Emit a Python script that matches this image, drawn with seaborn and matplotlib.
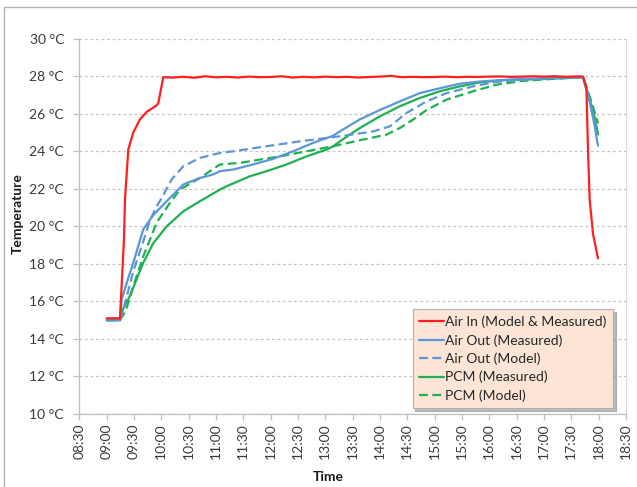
import matplotlib
matplotlib.use("Agg")
import matplotlib.pyplot as plt
import matplotlib.ticker as mticker
from matplotlib.lines import Line2D
import seaborn as sns
import pandas as pd

# ---- data (time in decimal hours, temperature in °C) ----
air_in_t = [9.0, 9.244, 9.317, 9.335, 9.396, 9.487, 9.609, 9.732, 9.915, 9.944, 10.036,
            10.2, 10.4, 10.6, 10.8, 11.0, 11.2, 11.4, 11.6, 11.8, 12.0, 12.2, 12.4, 12.6,
            12.8, 13.0, 13.2, 13.4, 13.6, 13.8, 14.0, 14.2, 14.4, 14.6, 14.8, 15.0, 15.2,
            15.4, 15.6, 15.8, 16.0, 16.2, 16.4, 16.6, 16.8, 17.0, 17.2, 17.4, 17.6, 17.714,
            17.776, 17.805, 17.836, 17.897, 17.988]
air_in_T = [15.1, 15.1, 19.3, 21.4, 24.1, 25.0, 25.7, 26.1, 26.45, 26.56, 27.95,
            27.93, 27.97, 27.92, 28.0, 27.94, 27.97, 27.93, 27.98, 27.95, 27.96, 28.0, 27.93,
            27.97, 27.94, 27.98, 27.95, 27.97, 27.93, 27.96, 27.98, 28.02, 27.95, 27.97,
            27.95, 27.96, 27.98, 27.95, 27.97, 27.96, 27.98, 27.99, 27.97, 27.98, 28.0,
            27.98, 28.0, 27.97, 27.99, 27.98,
            27.4, 24.1, 21.4, 19.6, 18.3]

air_out_meas_t = [9.0, 9.244, 9.275, 9.39, 9.487, 9.67, 9.853, 10.098, 10.401, 10.707,
                  10.944, 11.072, 11.315, 11.681, 12.047, 12.412, 12.778, 13.143, 13.266,
                  13.631, 13.997, 14.363, 14.728, 15.094, 15.459, 15.825, 16.131, 16.557,
                  17.1, 17.714, 17.836, 17.93, 17.988]
air_out_meas_T = [15.0, 15.0, 16.1, 17.2, 18.06, 19.84, 20.6, 21.34, 22.23, 22.58,
                  22.76, 22.94, 23.03, 23.3, 23.6, 24.0, 24.45, 24.83, 25.06,
                  25.7, 26.2, 26.66, 27.1, 27.36, 27.6, 27.72, 27.78, 27.85,
                  27.9, 27.95, 26.7, 25.3, 24.3]

air_out_model_t = [9.0, 9.244, 9.3, 9.487, 9.67, 9.792, 9.9, 10.006, 10.189, 10.401, 10.707,
                   11.072, 11.315, 11.926, 12.535, 13.023, 13.266, 13.875, 14.18, 14.485,
                   14.851, 15.216, 15.703, 16.131, 16.557, 17.1, 17.714, 17.836, 17.959]
air_out_model_T = [15.0, 15.0, 15.5, 17.6, 19.2, 20.3, 21.0, 21.5, 22.5, 23.2, 23.65,
                   23.91, 24.0, 24.27, 24.53, 24.71, 24.8, 25.06, 25.33, 26.04,
                   26.66, 27.1, 27.46, 27.7, 27.8, 27.9, 27.95, 26.6, 25.2]

pcm_meas_t = [9.0, 9.244, 9.3, 9.427, 9.67, 9.853, 10.098, 10.401, 10.707, 11.072,
              11.195, 11.621, 11.926, 12.292, 12.657, 13.023, 13.143, 13.3, 13.631,
              13.997, 14.363, 14.728, 15.094, 15.459, 15.825, 16.3, 17.0, 17.714,
              17.836, 17.93, 17.988]
pcm_meas_T = [15.0, 15.0, 15.6, 16.3, 18.06, 19.1, 20.0, 20.8, 21.34, 21.96,
              22.14, 22.67, 22.94, 23.3, 23.73, 24.09, 24.27, 24.6, 25.24,
              25.86, 26.4, 26.84, 27.2, 27.46, 27.67, 27.8, 27.85, 27.95,
              26.8, 25.8, 24.9]

pcm_model_t = [9.0, 9.244, 9.35, 9.487, 9.67, 9.915, 10.158, 10.341, 10.707, 11.072,
               11.438, 11.804, 12.169, 12.657, 13.143, 13.631, 14.12, 14.363, 14.606,
               14.851, 15.216, 15.703, 16.131, 16.6, 17.1, 17.714, 17.85, 17.988]
pcm_model_T = [15.0, 15.0, 15.5, 16.8, 18.4, 20.2, 21.25, 21.96, 22.58, 23.3,
               23.38, 23.56, 23.73, 24.0, 24.27, 24.59, 24.89, 25.24, 25.69,
               26.2, 26.75, 27.2, 27.55, 27.75, 27.85, 27.95, 26.8, 25.5]

labels = ["Air In (Model & Measured)", "Air Out (Measured)", "Air Out (Model)",
          "PCM (Measured)", "PCM (Model)"]
y_ticks = [10, 12, 14, 16, 18, 20, 22, 24, 26, 28, 30]

# ---- style ----
sns.set_theme(style="white")
plt.rcParams['font.family'] = ['Lato', 'DejaVu Sans']

RED = "#FF1F1F"
BLUE = "#5B96D8"
GREEN = "#1FB050"
DASH = (0, (4, 2))

fig = plt.figure(figsize=(6.37, 4.87), dpi=100)
fig.patch.set_facecolor("white")
ax = fig.add_axes([0.1245, 0.1499, 0.8582, 0.7706])

series = [
    (labels[0], air_in_t, air_in_T, RED, "-"),
    (labels[1], air_out_meas_t, air_out_meas_T, BLUE, "-"),
    (labels[2], air_out_model_t, air_out_model_T, BLUE, DASH),
    (labels[3], pcm_meas_t, pcm_meas_T, GREEN, "-"),
    (labels[4], pcm_model_t, pcm_model_T, GREEN, DASH),
]
# draw in order so that red is on top like the reference
for lab, t, T, c, ls in [series[4], series[3], series[2], series[1], series[0]]:
    df = pd.DataFrame({"time": t, "temp": T})
    sns.lineplot(data=df, x="time", y="temp", ax=ax, color=c, linewidth=1.6,
                 linestyle=ls, estimator=None, sort=False, legend=False)

ax.set_xlim(8.5, 18.5)
ax.set_ylim(10, 30)
ax.set_xticks([8.5 + 0.5 * i for i in range(21)])
ax.set_yticks(y_ticks)
ax.xaxis.set_major_formatter(mticker.FuncFormatter(
    lambda v, p: f"{int(v):02d}:{int(round((v % 1) * 60)):02d}"))
ax.yaxis.set_major_formatter(mticker.FuncFormatter(lambda v, p: f"{int(round(v))} °C"))

ax.yaxis.grid(True, color="#c4c4c4", linestyle=(0, (2.2, 2.2)), linewidth=0.9)
ax.xaxis.grid(False)
ax.set_axisbelow(True)

for s in ["left", "bottom"]:
    ax.spines[s].set_color("#bfbfbf")
    ax.spines[s].set_linewidth(0.9)
ax.spines["right"].set_color("#d9d9d9")
ax.spines["right"].set_linewidth(0.9)
ax.spines["top"].set_visible(False)

ax.tick_params(axis="both", which="major", bottom=True, left=True, direction="out",
               length=4, width=0.9, color="#bfbfbf", labelsize=10, labelcolor="#3a3a3a")
ax.tick_params(axis="y", pad=7)
ax.tick_params(axis="x", pad=2.5, labelrotation=90)

ax.set_xlabel("Time", fontweight="bold", fontsize=10, color="#1a1a1a")
ax.set_ylabel("Temperature", fontweight="bold", fontsize=10, color="#1a1a1a")
ax.xaxis.set_label_coords(0.455, -0.152)
ax.yaxis.set_label_coords(-0.101, 0.533)

handles = [Line2D([], [], color=c, lw=1.6, linestyle=ls) for _, _, _, c, ls in series]
leg = ax.legend(handles, labels, loc="lower right", bbox_to_anchor=(0.976, 0.016),
                frameon=True, fancybox=False,
                shadow={"color": "#8c8c8c", "alpha": 0.6},
                facecolor="#FCE4D6", edgecolor="#b0b0b0", fontsize=10,
                handlelength=1.8, handletextpad=0.1, labelspacing=0.42,
                borderpad=0.45, borderaxespad=0)
leg.get_frame().set_linewidth(0.8)
for txt in leg.get_texts():
    txt.set_color("#262626")

# outer chart-area border (top and left visible in the reference)
fig.add_artist(Line2D([4 / 637, 1.0], [1 - 7 / 487, 1 - 7 / 487],
                      transform=fig.transFigure, color="#b3b3b3", lw=1))
fig.add_artist(Line2D([4 / 637, 4 / 637], [0.0, 1 - 7 / 487],
                      transform=fig.transFigure, color="#b3b3b3", lw=1))

fig.savefig("out.png", dpi=100)
